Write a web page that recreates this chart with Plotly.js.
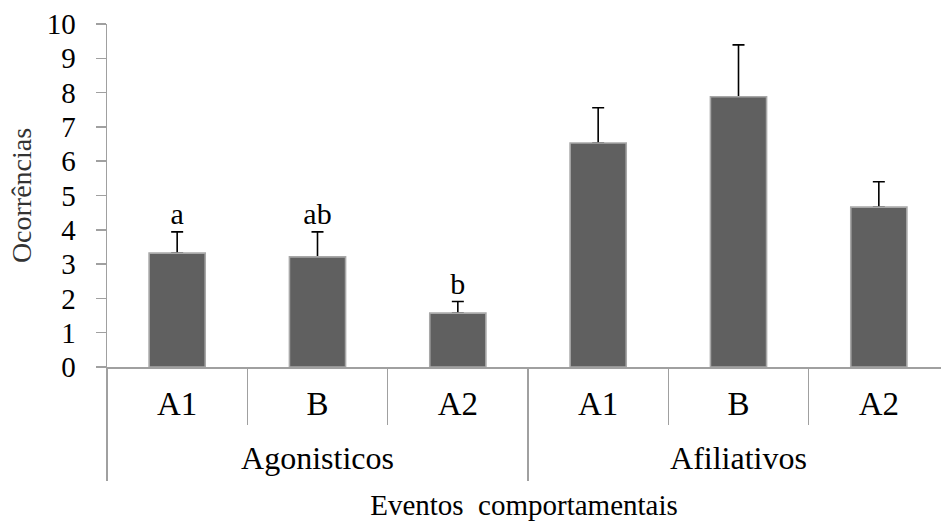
<!DOCTYPE html>
<html>
<head>
<meta charset="utf-8">
<script src="https://cdn.plot.ly/plotly-3.0.1.min.js"></script>
<style>html,body{margin:0;padding:0;background:#fff;}#chart{width:941px;height:521px;}</style>
</head>
<body>
<div id="chart"></div>
<script>
const groupNames = ["Agonisticos", "Afiliativos"];
const groups = ["Agonisticos", "Agonisticos", "Agonisticos", "Afiliativos", "Afiliativos", "Afiliativos"];
const periods = ["A1", "B", "A2", "A1", "B", "A2"];
const means = [3.32, 3.21, 1.57, 6.53, 7.88, 4.66];
const errors = [0.62, 0.73, 0.34, 1.03, 1.51, 0.74];
const letters = ["a", "ab", "b", "", "", ""];
const yTicks = [0, 1, 2, 3, 4, 5, 6, 7, 8, 9, 10];

const serif = "Liberation Serif";
const grey = "#a0a0a0";
const keys = groups.map((g, i) => g + " " + periods[i]);
const tops = means.map((m, i) => m + errors[i]);
const perGroup = periods.length / groupNames.length;
const xRange = [-0.5, 5.443];
const x2Range = [-0.5, -0.5 + (xRange[1] - xRange[0]) / perGroup];

// error bars (below), drawn from a transparent copy of the bars
const errTrace = {
  type: "bar",
  x: keys,
  y: means,
  width: 0.4,
  marker: { color: "rgba(0,0,0,0)", line: { width: 0 } },
  error_y: { type: "data", symmetric: false, array: errors, arrayminus: errors.map(() => 0),
             color: "#000000", thickness: 1.6, width: 6 },
  hoverinfo: "skip",
  showlegend: false
};

const bars = {
  type: "bar",
  x: keys,
  y: means,
  width: 0.4,
  marker: { color: "#606060", line: { color: "#a8a8a8", width: 1.6 } },
  hoverinfo: "skip",
  showlegend: false
};

const labels = {
  type: "scatter",
  mode: "text",
  x: keys,
  y: tops,
  text: letters,
  textposition: "top center",
  textfont: { family: serif, size: 30, color: "#000000" },
  hoverinfo: "skip",
  showlegend: false
};

const groupTrace = {
  type: "scatter",
  mode: "markers",
  x: groupNames,
  y: groupNames.map(() => null),
  xaxis: "x2",
  yaxis: "y",
  marker: { opacity: 0 },
  hoverinfo: "skip",
  showlegend: false
};

const layout = {
  width: 941,
  height: 521,
  margin: { l: 107, r: 0, t: 24, b: 154 },
  paper_bgcolor: "#ffffff",
  plot_bgcolor: "#ffffff",
  font: { family: serif, color: "#000000" },
  barmode: "overlay",
  xaxis: {
    type: "category",
    range: xRange,
    tickmode: "array",
    tickvals: keys,
    ticktext: periods,
    showline: true,
    linecolor: grey,
    linewidth: 1.5,
    ticks: "outside",
    tickson: "boundaries",
    ticklen: 56,
    tickcolor: grey,
    tickwidth: 1.5,
    ticklabelstandoff: 7,
    tickfont: { family: serif, size: 33, color: "#000000" },
    showgrid: false,
    zeroline: false,
    automargin: false
  },
  xaxis2: {
    type: "category",
    overlaying: "x",
    anchor: "y",
    side: "bottom",
    range: x2Range,
    showline: false,
    ticks: "outside",
    tickson: "boundaries",
    ticklen: 113,
    tickcolor: grey,
    tickwidth: 1.5,
    ticklabelstandoff: 69,
    tickfont: { family: serif, size: 32, color: "#000000" },
    showgrid: false,
    zeroline: false,
    automargin: false,
    title: { text: "Eventos\u00a0 comportamentais", font: { family: serif, size: 29, color: "#000000" }, standoff: 21 }
  },
  yaxis: {
    range: [0, 10],
    tickvals: yTicks,
    ticktext: yTicks.map(String),
    showline: true,
    linecolor: grey,
    linewidth: 1.5,
    ticks: "outside",
    ticklen: 10,
    tickcolor: grey,
    tickwidth: 1.5,
    ticklabelstandoff: 14,
    tickfont: { family: serif, size: 29, color: "#000000" },
    showgrid: false,
    zeroline: false,
    automargin: false,
    title: { text: "Ocorrências", font: { family: serif, size: 28, color: "#333333" }, standoff: 7 }
  }
};

Plotly.newPlot("chart", [errTrace, bars, labels, groupTrace], layout, { staticPlot: true, displayModeBar: false });
</script>
</body>
</html>
